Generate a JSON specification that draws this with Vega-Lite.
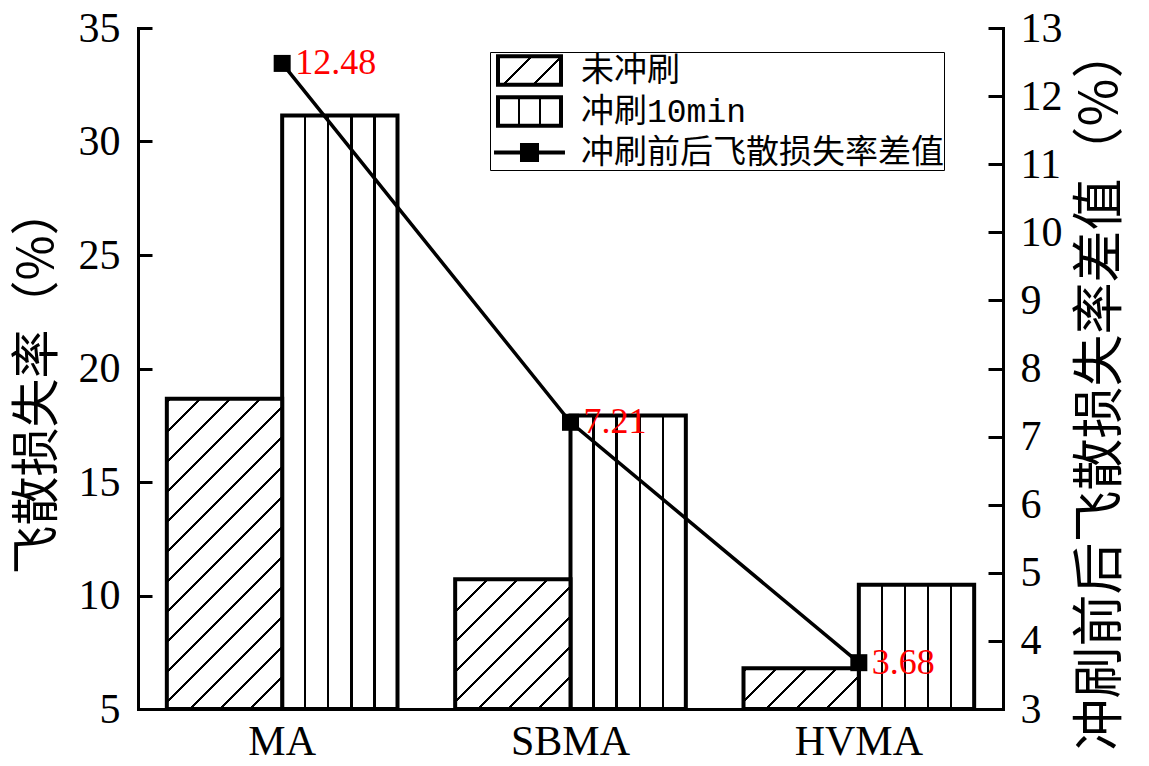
{
  "$schema": "https://vega.github.io/schema/vega-lite/v6.json",
  "width": 865,
  "height": 681,
  "autosize": {"type": "none"},
  "padding": {"left": 138, "top": 28, "right": 146, "bottom": 57},
  "background": "white",
  "config": {
    "view": {"stroke": null},
    "axis": {
      "grid": false,
      "domainColor": "black",
      "domainWidth": 3,
      "domainCap": "square",
      "tickColor": "black",
      "tickWidth": 3,
      "labelColor": "black",
      "labelFont": "Liberation Serif",
      "labelFontSize": 42,
      "titleColor": "black",
      "titleFont": "Noto Sans CJK SC",
      "titleFontWeight": "normal",
      "titleFontSize": 50
    },
    "legend": {
      "orient": "none",
      "legendX": 352,
      "legendY": 24,
      "title": null,
      "padding": 0,
      "strokeColor": "black",
      "labelFont": "Liberation Mono, Noto Sans CJK SC",
      "labelFontSize": 33,
      "labelColor": "black",
      "labelOffset": 33,
      "labelLimit": 0,
      "rowPadding": -8,
      "symbolSize": 1089,
      "symbolOffset": 21,
      "symbolStrokeWidth": 4,
      "symbolStrokeColor": "black",
      "symbolOpacity": 1
    }
  },
  "datasets": {
    "bars": [
      {"category": "MA", "series": "未冲刷", "value": 18.67},
      {"category": "MA", "series": "冲刷10min", "value": 31.15},
      {"category": "SBMA", "series": "未冲刷", "value": 10.72},
      {"category": "SBMA", "series": "冲刷10min", "value": 17.93},
      {"category": "HVMA", "series": "未冲刷", "value": 6.79},
      {"category": "HVMA", "series": "冲刷10min", "value": 10.47}
    ],
    "diff": [
      {"category": "MA", "diff": 12.48},
      {"category": "SBMA", "diff": 7.21},
      {"category": "HVMA", "diff": 3.68}
    ]
  },
  "layer": [
    {
      "data": {"name": "bars"},
      "encoding": {
        "x": {
          "field": "category",
          "type": "nominal",
          "scale": {"domain": ["MA", "SBMA", "HVMA"], "paddingInner": 0.2, "paddingOuter": 0.1},
          "axis": {"title": null, "ticks": false, "labelPadding": 12, "labelAngle": 0}
        },
        "xOffset": {"field": "series", "type": "nominal", "scale": {"domain": ["未冲刷", "冲刷10min"]}},
        "y": {
          "field": "value",
          "type": "quantitative",
          "scale": {"domain": [5, 35], "zero": false, "nice": false},
          "axis": {
            "orient": "left",
            "title": "飞散损失率（%）",
            "values": [5, 10, 15, 20, 25, 30, 35],
            "tickSize": -14,
            "labelPadding": 32,
            "titlePadding": 16,
            "titleFontSize": 49,
            "titleY": 352
          }
        },
        "y2": {"datum": 5}
      },
      "layer": [
        {
          "transform": [{"filter": "datum.series === '冲刷10min'"}],
          "mark": {
            "type": "bar",
            "stroke": "black",
            "strokeWidth": 4,
            "fill": {
              "gradient": "linear", "x1": 0, "y1": 0, "x2": 1, "y2": 0,
              "stops": [
                {"offset": 0, "color": "#fff"},
                {"offset": 0.1896, "color": "#fff"}, {"offset": 0.1896, "color": "#000"}, {"offset": 0.2104, "color": "#000"}, {"offset": 0.2104, "color": "#fff"},
                {"offset": 0.3896, "color": "#fff"}, {"offset": 0.3896, "color": "#000"}, {"offset": 0.4104, "color": "#000"}, {"offset": 0.4104, "color": "#fff"},
                {"offset": 0.5896, "color": "#fff"}, {"offset": 0.5896, "color": "#000"}, {"offset": 0.6104, "color": "#000"}, {"offset": 0.6104, "color": "#fff"},
                {"offset": 0.7896, "color": "#fff"}, {"offset": 0.7896, "color": "#000"}, {"offset": 0.8104, "color": "#000"}, {"offset": 0.8104, "color": "#fff"},
                {"offset": 1, "color": "#fff"}
              ]
            }
          }
        },
        {
          "transform": [{"filter": "datum.series === '未冲刷' && datum.category === 'MA'"}],
          "mark": {
            "type": "bar",
            "stroke": "black",
            "strokeWidth": 4,
            "fill": {
              "gradient": "linear", "x1": 0, "y1": 0, "x2": 0.44795, "y2": 1.20518,
              "stops": [
                {"offset": 0, "color": "#fff"},
                {"offset": 0.0035, "color": "#fff"}, {"offset": 0.0035, "color": "#000"}, {"offset": 0.0106, "color": "#000"}, {"offset": 0.0106, "color": "#fff"},
                {"offset": 0.074, "color": "#fff"}, {"offset": 0.074, "color": "#000"}, {"offset": 0.0811, "color": "#000"}, {"offset": 0.0811, "color": "#fff"},
                {"offset": 0.1445, "color": "#fff"}, {"offset": 0.1445, "color": "#000"}, {"offset": 0.1515, "color": "#000"}, {"offset": 0.1515, "color": "#fff"},
                {"offset": 0.215, "color": "#fff"}, {"offset": 0.215, "color": "#000"}, {"offset": 0.222, "color": "#000"}, {"offset": 0.222, "color": "#fff"},
                {"offset": 0.2855, "color": "#fff"}, {"offset": 0.2855, "color": "#000"}, {"offset": 0.2925, "color": "#000"}, {"offset": 0.2925, "color": "#fff"},
                {"offset": 0.356, "color": "#fff"}, {"offset": 0.356, "color": "#000"}, {"offset": 0.363, "color": "#000"}, {"offset": 0.363, "color": "#fff"},
                {"offset": 0.4264, "color": "#fff"}, {"offset": 0.4264, "color": "#000"}, {"offset": 0.4335, "color": "#000"}, {"offset": 0.4335, "color": "#fff"},
                {"offset": 0.4969, "color": "#fff"}, {"offset": 0.4969, "color": "#000"}, {"offset": 0.504, "color": "#000"}, {"offset": 0.504, "color": "#fff"},
                {"offset": 0.5674, "color": "#fff"}, {"offset": 0.5674, "color": "#000"}, {"offset": 0.5744, "color": "#000"}, {"offset": 0.5744, "color": "#fff"},
                {"offset": 0.6379, "color": "#fff"}, {"offset": 0.6379, "color": "#000"}, {"offset": 0.6449, "color": "#000"}, {"offset": 0.6449, "color": "#fff"},
                {"offset": 0.7084, "color": "#fff"}, {"offset": 0.7084, "color": "#000"}, {"offset": 0.7154, "color": "#000"}, {"offset": 0.7154, "color": "#fff"},
                {"offset": 0.7788, "color": "#fff"}, {"offset": 0.7788, "color": "#000"}, {"offset": 0.7859, "color": "#000"}, {"offset": 0.7859, "color": "#fff"},
                {"offset": 0.8493, "color": "#fff"}, {"offset": 0.8493, "color": "#000"}, {"offset": 0.8564, "color": "#000"}, {"offset": 0.8564, "color": "#fff"},
                {"offset": 0.9198, "color": "#fff"}, {"offset": 0.9198, "color": "#000"}, {"offset": 0.9269, "color": "#000"}, {"offset": 0.9269, "color": "#fff"},
                {"offset": 0.9903, "color": "#fff"}, {"offset": 0.9903, "color": "#000"}, {"offset": 0.9973, "color": "#000"}, {"offset": 0.9973, "color": "#fff"},
                {"offset": 1, "color": "#fff"}
              ]
            }
          }
        },
        {
          "transform": [{"filter": "datum.series === '未冲刷' && datum.category === 'SBMA'"}],
          "mark": {
            "type": "bar",
            "stroke": "black",
            "strokeWidth": 4,
            "fill": {
              "gradient": "linear", "x1": 0, "y1": 0, "x2": 0.9377, "y2": 1.05535,
              "stops": [
                {"offset": 0, "color": "#fff"},
                {"offset": 0.0061, "color": "#fff"}, {"offset": 0.0061, "color": "#000"}, {"offset": 0.0184, "color": "#000"}, {"offset": 0.0184, "color": "#fff"},
                {"offset": 0.1285, "color": "#fff"}, {"offset": 0.1285, "color": "#000"}, {"offset": 0.1407, "color": "#000"}, {"offset": 0.1407, "color": "#fff"},
                {"offset": 0.2509, "color": "#fff"}, {"offset": 0.2509, "color": "#000"}, {"offset": 0.2631, "color": "#000"}, {"offset": 0.2631, "color": "#fff"},
                {"offset": 0.3733, "color": "#fff"}, {"offset": 0.3733, "color": "#000"}, {"offset": 0.3855, "color": "#000"}, {"offset": 0.3855, "color": "#fff"},
                {"offset": 0.4957, "color": "#fff"}, {"offset": 0.4957, "color": "#000"}, {"offset": 0.5079, "color": "#000"}, {"offset": 0.5079, "color": "#fff"},
                {"offset": 0.618, "color": "#fff"}, {"offset": 0.618, "color": "#000"}, {"offset": 0.6303, "color": "#000"}, {"offset": 0.6303, "color": "#fff"},
                {"offset": 0.7404, "color": "#fff"}, {"offset": 0.7404, "color": "#000"}, {"offset": 0.7527, "color": "#000"}, {"offset": 0.7527, "color": "#fff"},
                {"offset": 0.8628, "color": "#fff"}, {"offset": 0.8628, "color": "#000"}, {"offset": 0.8751, "color": "#000"}, {"offset": 0.8751, "color": "#fff"},
                {"offset": 0.9852, "color": "#fff"}, {"offset": 0.9852, "color": "#000"}, {"offset": 0.9974, "color": "#000"}, {"offset": 0.9974, "color": "#fff"},
                {"offset": 1, "color": "#fff"}
              ]
            }
          }
        },
        {
          "transform": [{"filter": "datum.series === '未冲刷' && datum.category === 'HVMA'"}],
          "mark": {
            "type": "bar",
            "stroke": "black",
            "strokeWidth": 4,
            "fill": {
              "gradient": "linear", "x1": 0, "y1": 0, "x2": 1.20293, "y2": 0.42347,
              "stops": [
                {"offset": 0, "color": "#fff"},
                {"offset": 0.0096, "color": "#fff"}, {"offset": 0.0096, "color": "#000"}, {"offset": 0.0289, "color": "#000"}, {"offset": 0.0289, "color": "#fff"},
                {"offset": 0.202, "color": "#fff"}, {"offset": 0.202, "color": "#000"}, {"offset": 0.2213, "color": "#000"}, {"offset": 0.2213, "color": "#fff"},
                {"offset": 0.3944, "color": "#fff"}, {"offset": 0.3944, "color": "#000"}, {"offset": 0.4136, "color": "#000"}, {"offset": 0.4136, "color": "#fff"},
                {"offset": 0.5868, "color": "#fff"}, {"offset": 0.5868, "color": "#000"}, {"offset": 0.606, "color": "#000"}, {"offset": 0.606, "color": "#fff"},
                {"offset": 0.7792, "color": "#fff"}, {"offset": 0.7792, "color": "#000"}, {"offset": 0.7984, "color": "#000"}, {"offset": 0.7984, "color": "#fff"},
                {"offset": 0.9716, "color": "#fff"}, {"offset": 0.9716, "color": "#000"}, {"offset": 0.9908, "color": "#000"}, {"offset": 0.9908, "color": "#fff"},
                {"offset": 1, "color": "#fff"}
              ]
            }
          }
        }
      ]
    },
    {
      "data": {"name": "diff"},
      "encoding": {
        "x": {"field": "category", "type": "nominal"},
        "y": {
          "field": "diff",
          "type": "quantitative",
          "scale": {"domain": [3, 13], "zero": false, "nice": false},
          "axis": {
            "orient": "right",
            "title": "冲刷前后飞散损失率差值（%）",
            "values": [3, 4, 5, 6, 7, 8, 9, 10, 11, 12, 13],
            "tickSize": -15,
            "labelPadding": 32,
            "titlePadding": 13,
            "titleAngle": 270,
            "titleBaseline": "top",
            "titleFontSize": 52,
            "titleY": 360
          }
        }
      },
      "layer": [
        {
          "mark": {"type": "line", "stroke": "black", "strokeWidth": 3.5},
          "encoding": {"order": {"value": null}}
        },
        {
          "mark": {"type": "square", "size": 289, "color": "black", "opacity": 1}
        },
        {
          "mark": {"type": "point", "filled": true, "opacity": 0, "strokeWidth": 4},
          "encoding": {
            "fill": {
              "datum": "冲刷前后飞散损失率差值",
              "type": "nominal",
              "scale": {
                "domain": ["未冲刷", "冲刷10min", "冲刷前后飞散损失率差值"],
                "range": [
                  {"expr": "{gradient: 'linear', x1: 0, y1: 0, x2: 1.2058, y2: 0.54262, stops: [{offset: 0, color: '#fff'}, {offset: 0.3558, color: '#fff'}, {offset: 0.3558, color: '#000'}, {offset: 0.3886, color: '#000'}, {offset: 0.3886, color: '#fff'}, {offset: 0.6842, color: '#fff'}, {offset: 0.6842, color: '#000'}, {offset: 0.717, color: '#000'}, {offset: 0.717, color: '#fff'}, {offset: 1, color: '#fff'}]}"},
                  {"expr": "{gradient: 'linear', x1: 0, y1: 0, x2: 1, y2: 0, stops: [{offset: 0, color: '#fff'}, {offset: 0.3133, color: '#fff'}, {offset: 0.3133, color: '#000'}, {offset: 0.3533, color: '#000'}, {offset: 0.3533, color: '#fff'}, {offset: 0.6467, color: '#fff'}, {offset: 0.6467, color: '#000'}, {offset: 0.6867, color: '#000'}, {offset: 0.6867, color: '#fff'}, {offset: 1, color: '#fff'}]}"},
                  "black"
                ]
              }
            },
            "stroke": {
              "datum": "冲刷前后飞散损失率差值",
              "type": "nominal",
              "scale": {
                "domain": ["未冲刷", "冲刷10min", "冲刷前后飞散损失率差值"],
                "range": ["black", "black", "black"]
              }
            },
            "shape": {
              "datum": "冲刷前后飞散损失率差值",
              "type": "nominal",
              "scale": {
                "domain": ["未冲刷", "冲刷10min", "冲刷前后飞散损失率差值"],
                "range": [
                  "M-1.909,-0.859H1.909V0.859H-1.909Z",
                  "M-1.909,-0.859H1.909V0.859H-1.909Z",
                  "M-2.15,0H2.15M-0.455,-0.455H0.455V0.455H-0.455Z"
                ]
              }
            }
          }
        },
        {
          "mark": {"type": "text", "align": "left", "baseline": "middle", "dx": 13, "fontSize": 36, "font": "Liberation Serif", "color": "red"},
          "encoding": {"text": {"field": "diff", "type": "quantitative", "format": ".2f"}}
        }
      ]
    }
  ],
  "resolve": {"scale": {"y": "independent"}}
}
